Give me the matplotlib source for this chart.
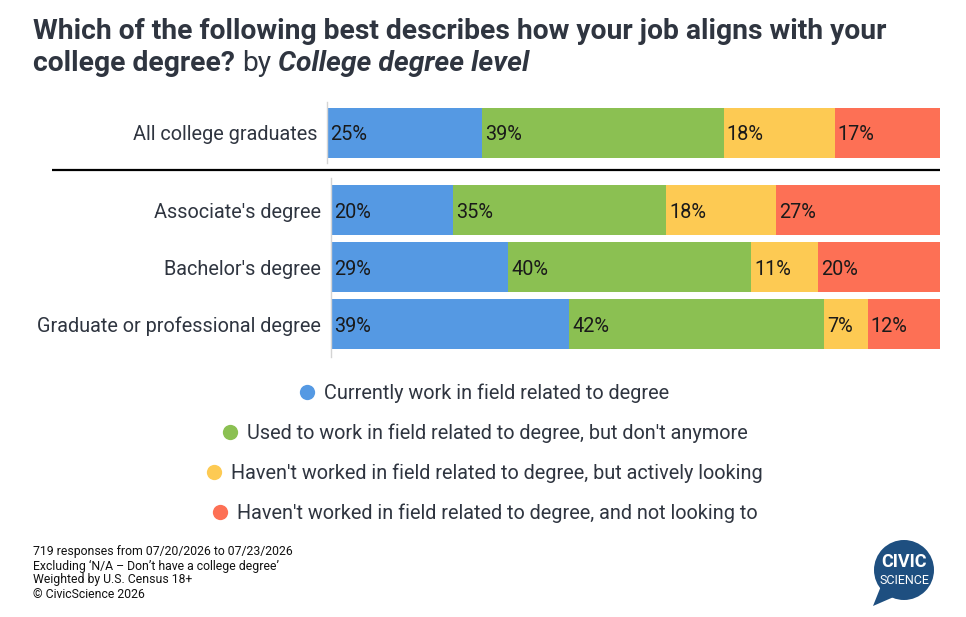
import numpy as np
import matplotlib
matplotlib.use("Agg")
import matplotlib.pyplot as plt
from matplotlib.lines import Line2D
from matplotlib.patches import Circle, Polygon
from matplotlib import font_manager

plt.rcParams['font.family'] = ['Roboto', 'DejaVu Sans']

# data
series = ["Currently work in field related to degree",
          "Used to work in field related to degree, but don't anymore",
          "Haven't worked in field related to degree, but actively looking",
          "Haven't worked in field related to degree, and not looking to"]
colors = ["#5599e3", "#8bc052", "#fdca53", "#fd7055"]

total_cats = ["All college graduates"]
total_current = [25.3]
total_used_to = [39.4]
total_looking = [18.1]
total_not_looking = [17.2]

degree_cats = ["Associate's degree", "Bachelor's degree", "Graduate or professional degree"]
current = [20.0, 29.1, 39.1]
used_to = [35.0, 39.9, 41.9]
looking = [18.1, 11.0, 7.1]
not_looking = [26.9, 20.0, 11.9]

footer = ["719 responses from 07/20/2026 to 07/23/2026",
          "Excluding \u2018N/A \u2013 Don\u2019t have a college degree\u2019",
          "Weighted by U.S. Census 18+",
          "\u00a9 CivicScience 2026"]

W, H = 966, 617
TXT = "#2f3540"
FS = 14.3
unit = 57.0  # px per category slot
bar_h = 50 / unit

fig = plt.figure(figsize=(W / 100, H / 100), dpi=100)
fig.patch.set_facecolor("white")


def px_axes(x0, y0, x1, y1):
    # pixel box (top-left origin) -> figure axes
    return fig.add_axes([x0 / W, 1 - y1 / H, (x1 - x0) / W, (y1 - y0) / H])


def draw_stack(ax, cats, values):
    left = np.zeros(len(cats))
    for vals, c in zip(values, colors):
        vals = np.array(vals)
        bars = ax.barh(cats, vals, left=left, color=c, height=bar_h, linewidth=0)
        for rect, v in zip(bars, vals):
            ax.annotate(f"{v:.0f}%", xy=(rect.get_x(), rect.get_y() + rect.get_height() / 2),
                        xytext=(2.3, 0), textcoords="offset points", va="center_baseline",
                        ha="left", fontsize=FS, color="#1a1a1a")
        left += vals
    ax.set_xlim(0, left.max())
    ax.set_xticks([])
    for s in ["top", "right", "bottom"]:
        ax.spines[s].set_visible(False)
    ax.spines["left"].set_color("#d4d4d4")
    ax.spines["left"].set_linewidth(1)
    ax.tick_params(axis="y", length=0, pad=7, labelsize=FS, labelcolor=TXT)
    ax.set_facecolor("none")


# overlay for decorations
ov = fig.add_axes([0, 0, 1, 1])
ov.set_xlim(0, W)
ov.set_ylim(H, 0)
ov.axis("off")

ax_top = px_axes(327, 102, 940, 163)
draw_stack(ax_top, total_cats, [total_current, total_used_to, total_looking, total_not_looking])
half = 61 / 2 / unit
ax_top.set_ylim(half, -half)

ax_deg = px_axes(331, 178, 940, 357)
draw_stack(ax_deg, degree_cats, [current, used_to, looking, not_looking])
ax_deg.set_ylim((357 - 324.5) / unit + 2, -(210 - 178) / unit)

# separator
ov.plot([52, 940], [170, 170], color="black", lw=1.6, solid_capstyle="butt")

# title
fig.text(33 / W, 1 - 39 / H, "Which of the following best describes how your job aligns with your",
         fontsize=20.3, fontweight="bold", color=TXT, va="baseline")
renderer = fig.canvas.get_renderer()
x = 33
for s, wgt, sty in [("college degree?", "bold", "normal"), ("by", "normal", "normal"),
                    ("College degree level", "bold", "italic")]:
    t = fig.text(x / W, 1 - 71 / H, s, fontsize=20.3, fontweight=wgt, fontstyle=sty,
                 color=TXT, va="baseline")
    bb = t.get_window_extent(renderer)
    x = bb.x1 + 7

# legend rows
for i, (lab, c) in enumerate(zip(series, colors)):
    h = Line2D([], [], marker="o", color="none", markerfacecolor=c, markeredgecolor="none",
               markersize=11)
    fig.legend(handles=[h], labels=[lab], loc="center", bbox_to_anchor=(0.5, 1 - (393 + 40 * i) / H),
               frameon=False, fontsize=FS, handletextpad=0.3, handlelength=1.1,
               labelcolor=TXT, borderpad=0, borderaxespad=0)

# footer
names = {f.name for f in font_manager.fontManager.ttflist}
ffam = ["Liberation Sans Narrow", "DejaVu Sans"] if "Liberation Sans Narrow" in names else ["Roboto", "DejaVu Sans"]
for i, line in enumerate(footer):
    fig.text(33 / W, 1 - (552 + 14 * i) / H, line, fontsize=8.8, family=ffam, color="#111111",
             va="center")

# logo
ov.add_patch(Polygon([(881, 586), (873, 606), (896, 596)], closed=True, color="#1e4f80", lw=0))
ov.add_patch(Circle((904, 570), 30, color="#1e4f80", lw=0))
ov.text(904, 562, "CIVIC", color="white", fontsize=13, fontweight="bold", ha="center", va="center")
ov.text(904, 580, "SCIENCE", color="white", fontsize=9, fontweight="normal", ha="center", va="center")

fig.savefig("out.png", dpi=100, facecolor="white")
